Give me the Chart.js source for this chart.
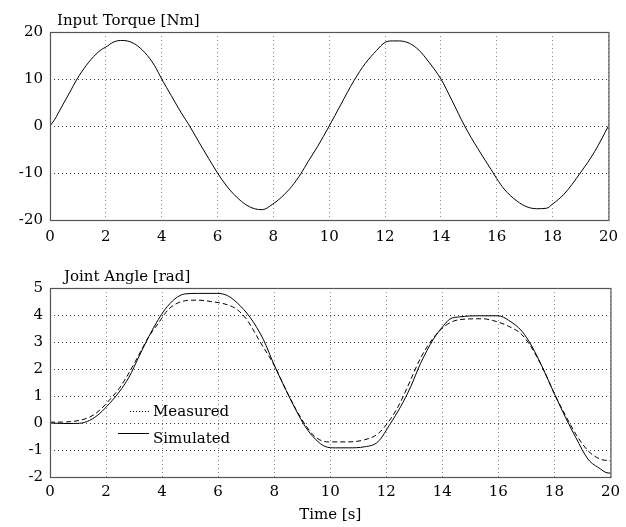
<!DOCTYPE html>
<html><head><meta charset="utf-8">
<script src="https://cdn.jsdelivr.net/npm/chart.js@4.4.0/dist/chart.umd.min.js"></script>
<style>
html,body{margin:0;padding:0;background:#fff;width:626px;height:527px;overflow:hidden}
canvas{position:absolute;left:0}
#c1{top:0}
#c2{top:250px}
</style></head><body>
<canvas id="c1" width="626" height="250"></canvas>
<canvas id="c2" width="626" height="277"></canvas>
<script>
// ---- data ----
const timeTicks = [0, 2, 4, 6, 8, 10, 12, 14, 16, 18, 20];
const timeTickLabels = ['0', '2', '4', '6', '8', '10', '12', '14', '16', '18', '20'];
const torqueTicks = [-20, -10, 0, 10, 20];
const torqueTickLabels = ['-20', '-10', '0', '10', '20'];
const angleTicks = [-2, -1, 0, 1, 2, 3, 4, 5];
const angleTickLabels = ['-2', '-1', '0', '1', '2', '3', '4', '5'];

const torqueTitle = 'Input Torque [Nm]';
const angleTitle = 'Joint Angle [rad]';
const timeTitle = 'Time [s]';

const torqueTime = [0,0.16,0.42,0.71,0.97,1.3,1.65,1.85,2.0,2.29,2.53,2.76,3.05,3.4,3.75,4.0,4.34,4.69,5.0,5.33,5.68,6.0,6.33,6.68,7.03,7.32,7.61,7.96,8.3,8.65,9.0,9.24,9.59,10.0,10.41,10.88,11.29,11.7,12.0,12.28,12.51,12.87,13.22,13.57,14.0,14.39,14.85,15.32,15.79,16.0,16.26,16.73,17.08,17.43,17.78,18.0,18.41,18.99,19.51,20.0];
const torque = [0,1.3,4.1,7.2,10,12.9,15.3,16.3,16.8,17.9,18.2,18.1,17.4,15.6,12.8,10,6.5,2.9,0,-3.4,-6.9,-10,-12.8,-15.1,-16.8,-17.6,-17.8,-16.7,-15.1,-12.9,-10,-7.6,-4.3,0,4.5,9.6,13.3,16.1,17.8,18.1,18.1,17.6,16.1,13.6,10,5.5,0,-4.8,-9.2,-11.2,-13.4,-16,-17.2,-17.6,-17.5,-16.6,-14.5,-10,-5.4,0];

const measuredTime = [0,0.6,1.06,1.42,1.77,2.12,2.47,2.82,3.17,3.52,3.87,4.22,4.57,4.92,5.27,5.74,6.33,6.68,7.03,7.5,8.02,8.43,8.78,9.12,9.47,9.94,10.64,11.23,11.7,12.16,12.51,12.87,13.22,13.68,14.04,14.39,14.85,15.44,15.79,16.37,16.84,17.19,17.6,18.0,18.4,18.77,19.2,19.64,20];
const measuredAngle = [0.03,0.04,0.1,0.22,0.47,0.85,1.28,1.86,2.52,3.19,3.7,4.2,4.45,4.54,4.55,4.5,4.38,4.2,3.82,3.0,2.1,1.2,0.5,-0.08,-0.52,-0.7,-0.7,-0.62,-0.4,0.16,0.78,1.6,2.4,3.15,3.55,3.77,3.85,3.86,3.8,3.58,3.27,2.78,2.0,1.08,0.27,-0.42,-1.03,-1.34,-1.4];

const simulatedTime = [0,0.6,1.06,1.42,1.77,2.12,2.47,2.82,3.17,3.52,3.87,4.1,4.46,4.81,5.27,5.98,6.33,6.68,7.15,7.61,8.02,8.43,8.78,9.12,9.47,9.82,10.18,10.64,11.23,11.7,12.16,12.51,12.87,13.22,13.68,14.04,14.27,14.62,15.32,16.0,16.37,16.84,17.19,17.6,18.0,18.4,18.77,19.2,19.64,19.83,20];
const simulatedAngle = [0,-0.02,-0.01,0.1,0.35,0.72,1.15,1.7,2.45,3.19,3.84,4.2,4.6,4.78,4.8,4.8,4.72,4.45,3.9,3.1,2.1,1.2,0.47,-0.15,-0.6,-0.87,-0.92,-0.92,-0.88,-0.7,0.0,0.6,1.34,2.2,3.1,3.6,3.85,3.93,3.97,3.97,3.8,3.4,2.85,2.0,1.08,0.2,-0.55,-1.34,-1.7,-1.83,-1.86];

// ---- helpers ----
const FAMILY = "'DejaVu Serif', serif";
const FONT = {family: FAMILY, size: 15};
const pts = (xs, ys) => xs.map((x, i) => ({x: x, y: ys[i]}));

const decor = {
  id: 'decor',
  afterDraw(chart, args, o) {
    const {ctx, chartArea: a} = chart;
    ctx.save();
    ctx.strokeStyle = '#555';
    ctx.lineWidth = 1.2;
    ctx.setLineDash([]);
    ctx.strokeRect(a.left + 0.5, a.top + 0.5, a.right - a.left, a.bottom - a.top);
    ctx.fillStyle = '#000';
    ctx.font = '15px ' + FAMILY;
    ctx.textAlign = 'left';
    ctx.textBaseline = 'alphabetic';
    ctx.fillText(o.title, a.left + o.titleDx, a.top - 7);
    if (o.legend) {
      const ds = chart.data.datasets;
      ctx.strokeStyle = '#000';
      ctx.lineWidth = 1;
      ctx.setLineDash([1, 2]);
      ctx.beginPath();
      ctx.moveTo(a.left + 80, a.top + 123.5);
      ctx.lineTo(a.left + 101, a.top + 123.5);
      ctx.stroke();
      ctx.setLineDash([]);
      ctx.beginPath();
      ctx.moveTo(a.left + 68, a.top + 145.5);
      ctx.lineTo(a.left + 99, a.top + 145.5);
      ctx.stroke();
      ctx.fillText(ds[0].label, a.left + 103, a.top + 128);
      ctx.fillText(ds[1].label, a.left + 103, a.top + 155);
    }
    ctx.restore();
  }
};

function makeOptions(cfg) {
  return {
    responsive: false,
    animation: false,
    devicePixelRatio: 1,
    layout: {padding: cfg.padding},
    plugins: {
      legend: {display: false},
      tooltip: {enabled: false},
      title: {display: false},
      decor: {title: cfg.title, titleDx: cfg.titleDx, legend: cfg.legend}
    },
    elements: {
      point: {radius: 0},
      line: {borderWidth: 1, cubicInterpolationMode: 'monotone'}
    },
    scales: {
      x: {
        type: 'linear', min: 0, max: 20,
        afterBuildTicks: s => { s.ticks = timeTicks.map(v => ({value: v})); },
        afterFit: s => { s.height = cfg.xHeight; },
        ticks: {
          font: FONT, color: '#000', padding: cfg.xPad, maxRotation: 0, autoSkip: false,
          callback: (v, i) => timeTickLabels[i]
        },
        grid: {color: '#8c8c8c', lineWidth: 1, drawTicks: false},
        border: {display: false, dash: [1, 3]},
        title: cfg.xTitle ? {display: true, text: cfg.xTitle, font: FONT, color: '#000', padding: {top: 0, bottom: 3}} : {display: false}
      },
      y: {
        type: 'linear', min: cfg.yTicks[0], max: cfg.yTicks[cfg.yTicks.length - 1],
        afterBuildTicks: s => { s.ticks = cfg.yTicks.map(v => ({value: v})); },
        afterFit: s => { s.width = 50; },
        ticks: {
          font: FONT, color: '#000', padding: 7, autoSkip: false,
          callback: (v, i) => cfg.yLabels[i]
        },
        grid: {color: '#3a3a3a', lineWidth: 1, drawTicks: false},
        border: {display: false, dash: [1, 3]}
      }
    }
  };
}

new Chart(document.getElementById('c1'), {
  type: 'line',
  data: {
    datasets: [{
      label: torqueTitle,
      data: pts(torqueTime, torque),
      borderColor: '#000',
      borderWidth: 1,
      fill: false
    }]
  },
  options: makeOptions({
    padding: {top: 32, right: 11, left: 0, bottom: 0},
    xHeight: 30, xPad: 8, title: torqueTitle, titleDx: 7, legend: false,
    yTicks: torqueTicks, yLabels: torqueTickLabels
  }),
  plugins: [decor]
});

new Chart(document.getElementById('c2'), {
  type: 'line',
  data: {
    datasets: [{
      label: 'Measured',
      data: pts(measuredTime, measuredAngle),
      borderColor: '#000',
      borderWidth: 1,
      borderDash: [5, 3],
      fill: false
    }, {
      label: 'Simulated',
      data: pts(simulatedTime, simulatedAngle),
      borderColor: '#000',
      borderWidth: 1,
      fill: false
    }]
  },
  options: makeOptions({
    padding: {top: 38, right: 9, left: 0, bottom: 0},
    xHeight: 50, xPad: 6, xTitle: timeTitle, title: angleTitle, titleDx: 14, legend: true,
    yTicks: angleTicks, yLabels: angleTickLabels
  }),
  plugins: [decor]
});
</script>
</body></html>
